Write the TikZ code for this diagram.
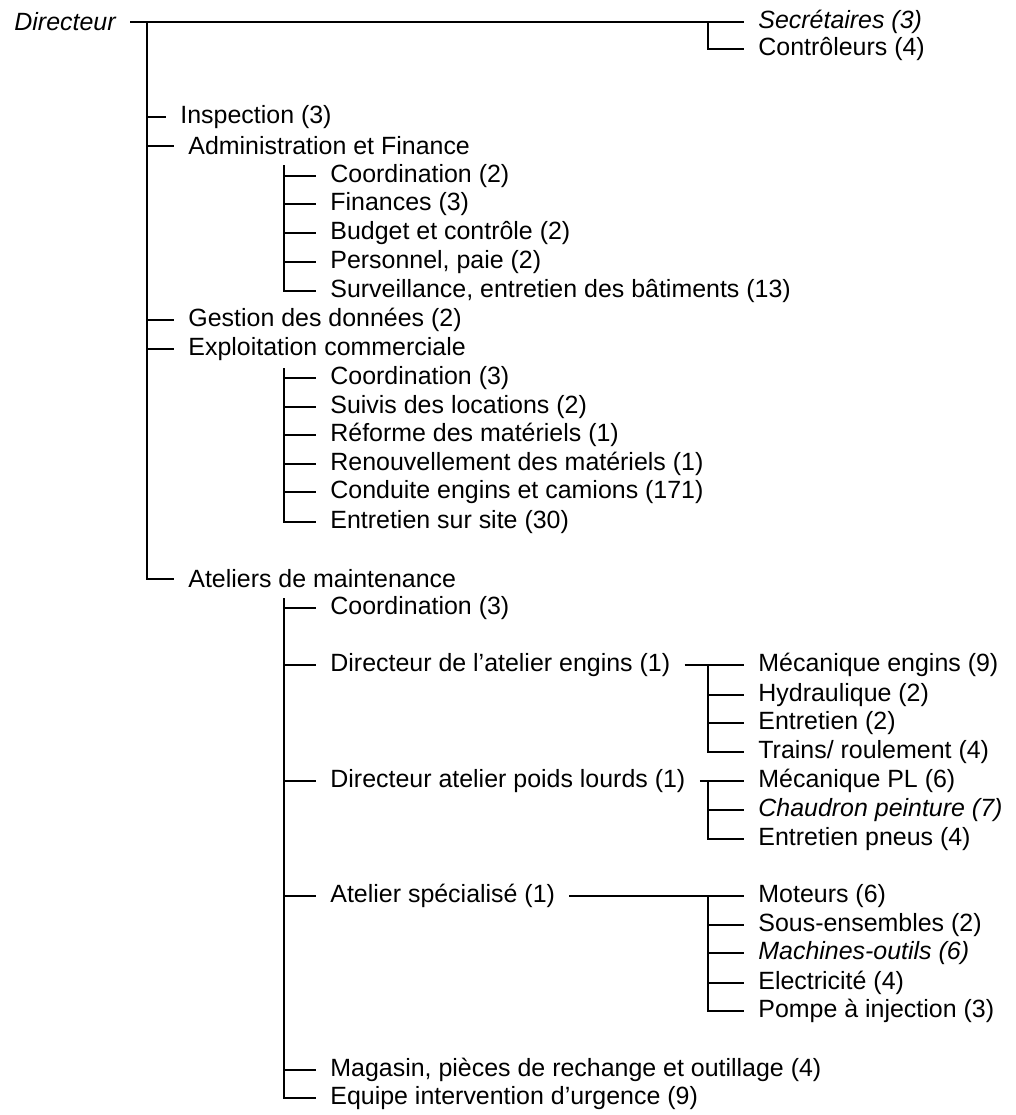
\documentclass[tikz,border=0pt]{standalone}
\usepackage{fontspec}
\setmainfont{Liberation Sans}
\begin{document}
\begin{tikzpicture}[x=0.02cm,y=-0.02cm,
  item/.style={anchor=west,inner xsep=8pt,inner ysep=1pt,font=\fontsize{14.2}{16}\selectfont},
  itemit/.style={item,font=\fontsize{14.2}{16}\selectfont\itshape},
  spine/.style={draw=black,line width=0.9pt},
  branch/.style={draw=black,line width=0.6pt}
]
\path[use as bounding box] (0,0) rectangle (1016,1115);

% Head of the chart
\node[itemit] (dir) at (0,22) {Directeur};
\node[itemit] (secr) at (744,22) {Secrétaires (3)};
\node[item] (ctrl) at (744,49) {Contrôleurs (4)};

% First level
\node[item] (insp) at (166,117) {Inspection (3)};
\node[item] (admin) at (174,146) {Administration et Finance};
\node[item] (gest) at (174,320) {Gestion des données (2)};
\node[item] (expl) at (174,349) {Exploitation commerciale};
\node[item] (atel) at (174,579) {Ateliers de maintenance};

% Administration et Finance
\node[item] (coordA) at (316,176) {Coordination (2)};
\node[item] (fin) at (316,204) {Finances (3)};
\node[item] (budget) at (316,233) {Budget et contrôle (2)};
\node[item] (pers) at (316,262) {Personnel, paie (2)};
\node[item] (surv) at (316,291) {Surveillance, entretien des bâtiments (13)};

% Exploitation commerciale
\node[item] (coordE) at (316,378) {Coordination (3)};
\node[item] (suivi) at (316,407) {Suivis des locations (2)};
\node[item] (reforme) at (316,435) {Réforme des matériels (1)};
\node[item] (renouv) at (316,464) {Renouvellement des matériels (1)};
\node[item] (conduite) at (316,492) {Conduite engins et camions (171)};
\node[item] (entsite) at (316,522) {Entretien sur site (30)};

% Ateliers de maintenance
\node[item] (coordM) at (316,608) {Coordination (3)};
\node[item] (direng) at (316,665) {Directeur de l'atelier engins (1)};
\node[item] (dirpl) at (316,781) {Directeur atelier poids lourds (1)};
\node[item] (atspec) at (316,896) {Atelier spécialisé (1)};
\node[item] (magasin) at (316,1070) {Magasin, pièces de rechange et outillage (4)};
\node[item] (equipe) at (316,1098) {Equipe intervention d'urgence (9)};

% Third level
\node[item] (meca) at (744,665) {Mécanique engins (9)};
\node[item] (hydr) at (744,695) {Hydraulique (2)};
\node[item] (entr) at (744,723) {Entretien (2)};
\node[item] (trains) at (744,752) {Trains/ roulement (4)};
\node[item] (mecapl) at (744,781) {Mécanique PL (6)};
\node[itemit] (chaud) at (744,810) {Chaudron peinture (7)};
\node[item] (pneus) at (744,839) {Entretien pneus (4)};
\node[item] (moteurs) at (744,896) {Moteurs (6)};
\node[item] (sousens) at (744,925) {Sous-ensembles (2)};
\node[itemit] (machines) at (744,953) {Machines-outils (6)};
\node[item] (elec) at (744,983) {Electricité (4)};
\node[item] (pompe) at (744,1011) {Pompe à injection (3)};

% Fork points
\coordinate (trunk) at (147,22);
\coordinate (secfork) at (708,22);
\coordinate (adminfork) at (284,165);
\coordinate (explfork) at (284,368);
\coordinate (atelfork) at (284,598);
\coordinate (engfork) at (708,665);
\coordinate (plfork) at (708,781);
\coordinate (specfork) at (708,896);

% Spines
\draw[branch] (dir.east) -- (secr.west);
\draw[spine] (secfork) |- (ctrl.west);
\draw[spine] (trunk) |- (atel.west);
\draw[spine] (adminfork) |- (surv.west);
\draw[spine] (explfork) |- (entsite.west);
\draw[spine] (atelfork) |- (equipe.west);
\draw[branch] (direng.east) -- (meca.west);
\draw[spine] (engfork) |- (trains.west);
\draw[branch] (dirpl.east) -- (mecapl.west);
\draw[spine] (plfork) |- (pneus.west);
\draw[branch] (atspec.east) -- (moteurs.west);
\draw[spine] (specfork) |- (pompe.west);

% Branches off the trunk
\draw[branch] (trunk |- insp.west) -- (insp.west);
\draw[branch] (trunk |- admin.west) -- (admin.west);
\draw[branch] (trunk |- gest.west) -- (gest.west);
\draw[branch] (trunk |- expl.west) -- (expl.west);

% Branches inside the groups
\draw[branch] (adminfork |- coordA.west) -- (coordA.west);
\draw[branch] (adminfork |- fin.west) -- (fin.west);
\draw[branch] (adminfork |- budget.west) -- (budget.west);
\draw[branch] (adminfork |- pers.west) -- (pers.west);
\draw[branch] (explfork |- coordE.west) -- (coordE.west);
\draw[branch] (explfork |- suivi.west) -- (suivi.west);
\draw[branch] (explfork |- reforme.west) -- (reforme.west);
\draw[branch] (explfork |- renouv.west) -- (renouv.west);
\draw[branch] (explfork |- conduite.west) -- (conduite.west);
\draw[branch] (atelfork |- coordM.west) -- (coordM.west);
\draw[branch] (atelfork |- direng.west) -- (direng.west);
\draw[branch] (atelfork |- dirpl.west) -- (dirpl.west);
\draw[branch] (atelfork |- atspec.west) -- (atspec.west);
\draw[branch] (atelfork |- magasin.west) -- (magasin.west);
\draw[branch] (engfork |- hydr.west) -- (hydr.west);
\draw[branch] (engfork |- entr.west) -- (entr.west);
\draw[branch] (plfork |- chaud.west) -- (chaud.west);
\draw[branch] (specfork |- sousens.west) -- (sousens.west);
\draw[branch] (specfork |- machines.west) -- (machines.west);
\draw[branch] (specfork |- elec.west) -- (elec.west);

\end{tikzpicture}
\end{document}
